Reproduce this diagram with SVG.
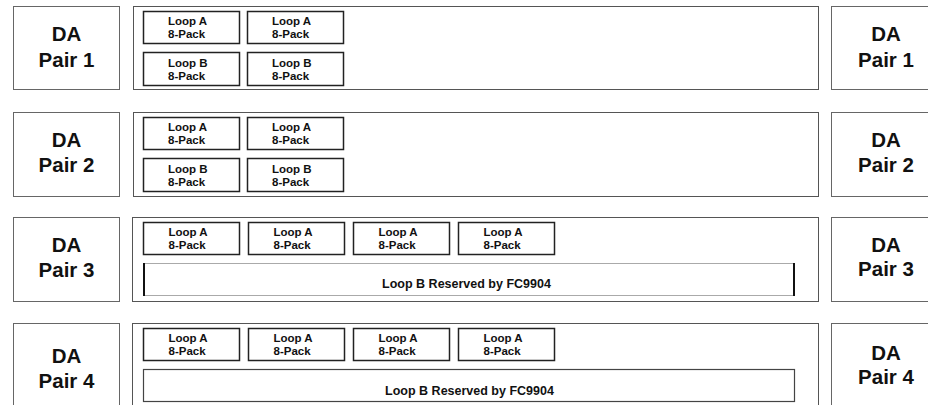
<svg xmlns="http://www.w3.org/2000/svg" width="928" height="405" viewBox="0 0 928 405">
<style>
.da{fill:#fff;stroke:#666;stroke-width:1}
.tray{fill:#fff;stroke:#555;stroke-width:1}
.pack{fill:#fff;stroke:#222;stroke-width:1.5}
.dat{font-family:"Liberation Sans",Arial,sans-serif;font-weight:bold;font-size:20.5px;fill:#111;text-anchor:middle}
.pt{font-family:"Liberation Sans",Arial,sans-serif;font-weight:bold;font-size:11.5px;fill:#111}
.rt{font-family:"Liberation Sans",Arial,sans-serif;font-weight:bold;font-size:12.5px;fill:#111;text-anchor:middle}
</style>
<rect width="928" height="405" fill="#fff"/>
<g id="row1">
<g id="da1l"><rect class="da" x="13.5" y="6.5" width="106" height="83"/><text class="dat" x="66.5" y="41">DA</text><text class="dat" x="66.5" y="66.5">Pair 1</text></g>
<g id="tray1"><rect class="tray" x="133.5" y="6.5" width="685" height="83"/>
<g id="p1a1"><rect class="pack" x="143.5" y="11.5" width="96" height="32"/><text class="pt" x="168" y="25">Loop A</text><text class="pt" x="168" y="38">8-Pack</text></g>
<g id="p1a2"><rect class="pack" x="247.5" y="11.5" width="96" height="32"/><text class="pt" x="272" y="25">Loop A</text><text class="pt" x="272" y="38">8-Pack</text></g>
<g id="p1b1"><rect class="pack" x="143.5" y="52.5" width="96" height="33"/><text class="pt" x="168" y="66.5">Loop B</text><text class="pt" x="168" y="79.5">8-Pack</text></g>
<g id="p1b2"><rect class="pack" x="247.5" y="52.5" width="96" height="33"/><text class="pt" x="272" y="66.5">Loop B</text><text class="pt" x="272" y="79.5">8-Pack</text></g>
</g>
<g id="da1r"><rect class="da" x="831.5" y="6.5" width="110" height="83"/><text class="dat" x="886" y="41">DA</text><text class="dat" x="886" y="66.5">Pair 1</text></g>
</g>
<g id="row2">
<g id="da2l"><rect class="da" x="13.5" y="112.5" width="106" height="84"/><text class="dat" x="66.5" y="147">DA</text><text class="dat" x="66.5" y="172">Pair 2</text></g>
<g id="tray2"><rect class="tray" x="133.5" y="112.5" width="685" height="84"/>
<g id="p2a1"><rect class="pack" x="143.5" y="117.5" width="96" height="32"/><text class="pt" x="168" y="131">Loop A</text><text class="pt" x="168" y="144">8-Pack</text></g>
<g id="p2a2"><rect class="pack" x="247.5" y="117.5" width="96" height="32"/><text class="pt" x="272" y="131">Loop A</text><text class="pt" x="272" y="144">8-Pack</text></g>
<g id="p2b1"><rect class="pack" x="143.5" y="158.5" width="96" height="33"/><text class="pt" x="168" y="172.5">Loop B</text><text class="pt" x="168" y="185.5">8-Pack</text></g>
<g id="p2b2"><rect class="pack" x="247.5" y="158.5" width="96" height="33"/><text class="pt" x="272" y="172.5">Loop B</text><text class="pt" x="272" y="185.5">8-Pack</text></g>
</g>
<g id="da2r"><rect class="da" x="831.5" y="112.5" width="110" height="84"/><text class="dat" x="886" y="147">DA</text><text class="dat" x="886" y="172">Pair 2</text></g>
</g>
<g id="row3">
<g id="da3l"><rect class="da" x="13.5" y="217.5" width="106" height="84"/><text class="dat" x="66.5" y="252">DA</text><text class="dat" x="66.5" y="277">Pair 3</text></g>
<g id="tray3"><rect class="tray" x="132.5" y="217.5" width="686" height="84"/>
<g id="p3a1"><rect class="pack" x="143.5" y="222.5" width="96" height="32"/><text class="pt" x="168.5" y="236">Loop A</text><text class="pt" x="168.5" y="249">8-Pack</text></g>
<g id="p3a2"><rect class="pack" x="248.5" y="222.5" width="96" height="32"/><text class="pt" x="273.5" y="236">Loop A</text><text class="pt" x="273.5" y="249">8-Pack</text></g>
<g id="p3a3"><rect class="pack" x="353.5" y="222.5" width="96" height="32"/><text class="pt" x="378.5" y="236">Loop A</text><text class="pt" x="378.5" y="249">8-Pack</text></g>
<g id="p3a4"><rect class="pack" x="458.5" y="222.5" width="96" height="32"/><text class="pt" x="483.5" y="236">Loop A</text><text class="pt" x="483.5" y="249">8-Pack</text></g>
<g id="r3"><rect x="143.5" y="263.5" width="651" height="32" fill="#fff" stroke="#aaa" stroke-width="1"/><line x1="144" y1="263" x2="144" y2="296" stroke="#111" stroke-width="2"/><line x1="794" y1="263" x2="794" y2="296" stroke="#111" stroke-width="2"/><text class="rt" x="466.5" y="288">Loop B Reserved by FC9904</text></g>
</g>
<g id="da3r"><rect class="da" x="831.5" y="217.5" width="110" height="84"/><text class="dat" x="886" y="251.5">DA</text><text class="dat" x="886" y="275.5">Pair 3</text></g>
</g>
<g id="row4">
<g id="da4l"><rect class="da" x="13.5" y="323.5" width="106" height="90"/><text class="dat" x="66.5" y="363">DA</text><text class="dat" x="66.5" y="388">Pair 4</text></g>
<g id="tray4"><rect class="tray" x="132.5" y="323.5" width="686" height="90"/>
<g id="p4a1"><rect class="pack" x="143.5" y="328.5" width="96" height="32"/><text class="pt" x="168.5" y="342">Loop A</text><text class="pt" x="168.5" y="355">8-Pack</text></g>
<g id="p4a2"><rect class="pack" x="248.5" y="328.5" width="96" height="32"/><text class="pt" x="273.5" y="342">Loop A</text><text class="pt" x="273.5" y="355">8-Pack</text></g>
<g id="p4a3"><rect class="pack" x="353.5" y="328.5" width="96" height="32"/><text class="pt" x="378.5" y="342">Loop A</text><text class="pt" x="378.5" y="355">8-Pack</text></g>
<g id="p4a4"><rect class="pack" x="458.5" y="328.5" width="96" height="32"/><text class="pt" x="483.5" y="342">Loop A</text><text class="pt" x="483.5" y="355">8-Pack</text></g>
<g id="r4"><rect x="143.5" y="369.5" width="651" height="32" fill="#fff" stroke="#444" stroke-width="1.2"/><text class="rt" x="469.5" y="395">Loop B Reserved by FC9904</text></g>
</g>
<g id="da4r"><rect class="da" x="831.5" y="323.5" width="110" height="90"/><text class="dat" x="886" y="360">DA</text><text class="dat" x="886" y="383.5">Pair 4</text></g>
</g>
<g id="connectors"/>
</svg>
